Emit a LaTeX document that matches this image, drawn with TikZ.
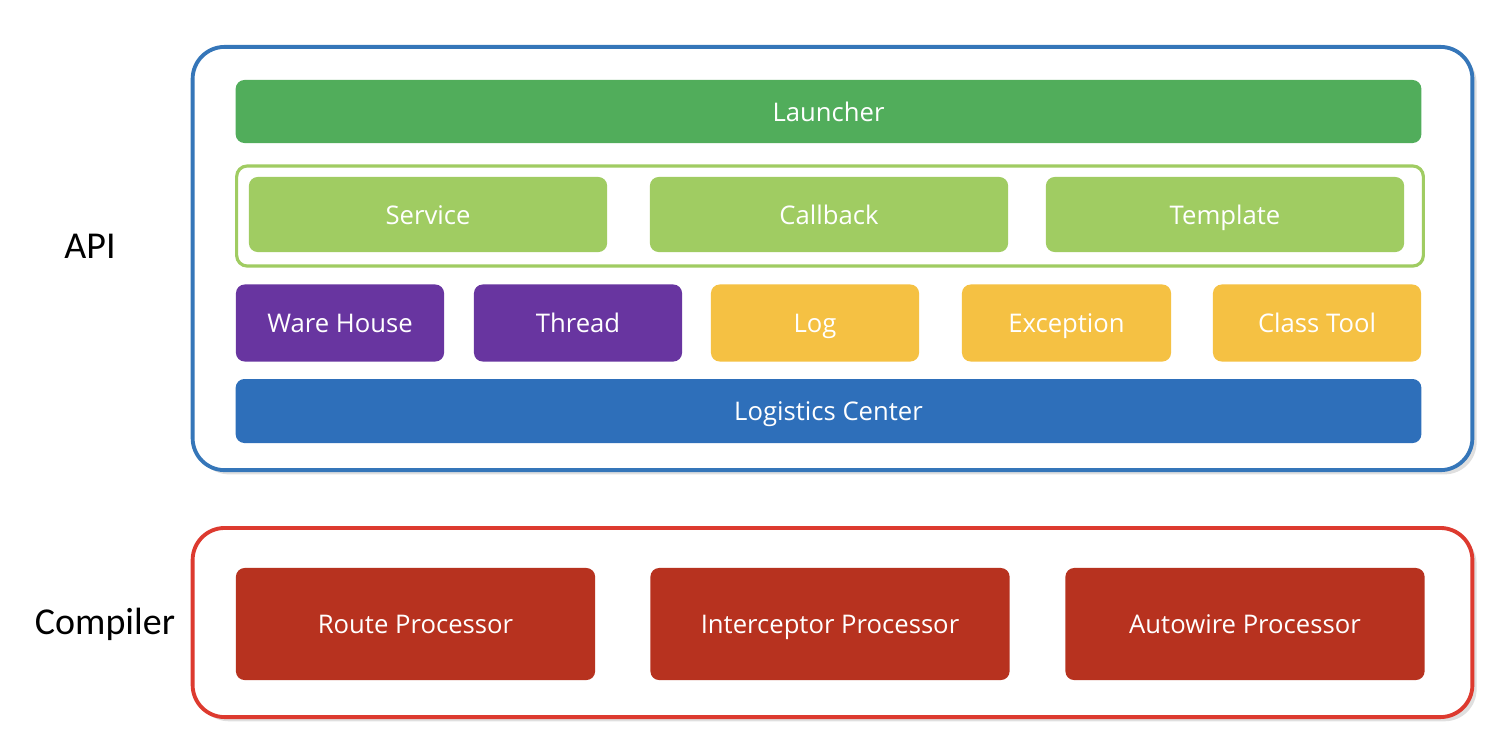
\documentclass[tikz,border=0pt]{standalone}
\usepackage{fontspec}
\setmainfont{Carlito}
\newfontfamily\boxfont{Open Sans}
\usetikzlibrary{shapes,shadows}
\definecolor{launchgreen}{HTML}{51AD5B}
\definecolor{lightgreen}{HTML}{A0CC62}
\definecolor{purplebox}{HTML}{6835A0}
\definecolor{yellowbox}{HTML}{F5C143}
\definecolor{bluebox}{HTML}{2E6FBA}
\definecolor{blueframe}{HTML}{3576B9}
\definecolor{redframe}{HTML}{DD3A2F}
\definecolor{redbox}{HTML}{B7321F}
\tikzstyle{blk}=[rectangle,rounded corners=2.5pt,inner sep=0pt,text=white,text height=1.6ex,text depth=0.45ex,
  font=\boxfont\fontsize{7.3}{8}\selectfont]
\tikzstyle{frame}=[rectangle,rounded corners=0.32cm,line width=1.1pt,fill=white,inner sep=0pt,
  drop shadow={shadow xshift=1.2pt,shadow yshift=-1.2pt,opacity=0.25}]
\tikzstyle{side}=[font=\fontsize{10.8}{12}\selectfont,text=black]
\begin{document}
\begin{tikzpicture}[x=0.01cm,y=-0.01cm]
\useasboundingbox (0,0) rectangle (1510,738);
% outer frames
\node[frame,draw=blueframe,minimum width=12.79cm,minimum height=4.23cm] (apiframe) at (832.5,258.5) {};
\node[frame,draw=redframe,minimum width=12.79cm,minimum height=1.89cm] (compframe) at (832.5,622.5) {};
\node[side] (api) at (90,246) {API};
\node[side] (compiler) at (105,624) {Compiler};
% api layers
\node[blk,fill=launchgreen,minimum width=11.85cm,minimum height=0.63cm] (launcher) at (828.5,111.5) {Launcher};
\node[rectangle,rounded corners=3pt,draw=lightgreen,line width=0.9pt,minimum width=11.86cm,minimum height=1.0cm] (group) at (830,216) {};
\node[blk,fill=lightgreen,minimum width=3.58cm,minimum height=0.75cm] (service) at (428,214.5) {Service};
\node[blk,fill=lightgreen,minimum width=3.58cm,minimum height=0.75cm] (callback) at (829,214.5) {Callback};
\node[blk,fill=lightgreen,minimum width=3.58cm,minimum height=0.75cm] (template) at (1225,214.5) {Template};
\node[blk,fill=purplebox,minimum width=2.08cm,minimum height=0.77cm] (warehouse) at (340,323) {Ware House};
\node[blk,fill=purplebox,minimum width=2.08cm,minimum height=0.77cm] (thread) at (578,323) {Thread};
\node[blk,fill=yellowbox,minimum width=2.08cm,minimum height=0.77cm] (log) at (815,323) {Log};
\node[blk,fill=yellowbox,minimum width=2.09cm,minimum height=0.77cm] (exception) at (1066.5,323) {Exception};
\node[blk,fill=yellowbox,minimum width=2.08cm,minimum height=0.77cm] (classtool) at (1317,323) {Class Tool};
\node[blk,fill=bluebox,minimum width=11.85cm,minimum height=0.64cm] (logistics) at (828.5,411) {Logistics Center};
% compiler
\foreach \x/\n/\t in {415.5/route/Route Processor,830/interceptor/Interceptor Processor,1245/autowire/Autowire Processor}
  \node[blk,fill=redbox,minimum width=3.59cm,minimum height=1.12cm] (\n) at (\x,624) {\t};
\end{tikzpicture}
\end{document}
